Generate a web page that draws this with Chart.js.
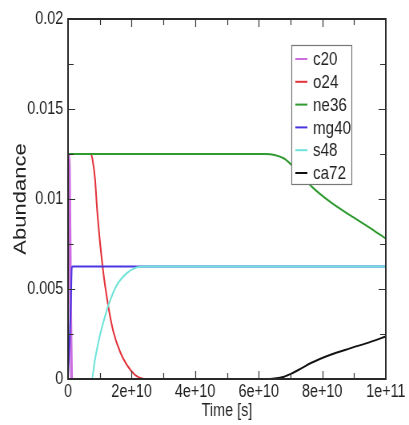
<!DOCTYPE html>
<html>
<head>
<meta charset="utf-8">
<script src="https://cdn.jsdelivr.net/npm/chart.js@4.4.1/dist/chart.umd.min.js"></script>
<style>
  html, body { margin: 0; padding: 0; background: #fff; overflow: hidden; }
  /* the reference looks horizontally squeezed, so draw wider and squeeze */
  #wrap { width: 511px; height: 425px; transform: scaleX(0.8004); transform-origin: 0 0; }
</style>
</head>
<body>
<div id="wrap"><canvas id="abund" width="511" height="425"></canvas></div>
<script>
(function () {
  'use strict'

  // species names and colours
  const species = ['c20', 'o24', 'ne36', 'mg40', 's48', 'ca72'];
  const colors = ['#cc6ee0', '#e3323a', '#2f9a2f', '#4a36e0', '#6ee3da', '#111111'];

  // time points [s] and abundances
  const tC20 = [0, 4e8, 8e8, 1.1e9];
  const vC20 = [0.0125, 0.0118, 0.004, 0];

  const tO24 = [0, 7.2e9, 7.7e9, 8.5e9, 9.2e9, 1.09e10, 1.27e10, 1.43e10, 1.64e10, 1.85e10, 2.11e10, 2.32e10, 2.5e10, 1e11];
  const vO24 = [0.0125, 0.0125, 0.0122, 0.0111, 0.0093, 0.0062, 0.0040, 0.0026, 0.0015, 0.00078, 0.00022, 0.00003, 0, 0];

  const tNe36 = [0, 6.2e10, 6.5e10, 6.8e10, 7.03e10, 7.35e10, 7.66e10, 8.24e10, 8.87e10, 9.5e10, 1e11];
  const vNe36 = [0.0125, 0.0125, 0.01245, 0.01225, 0.0119, 0.0113, 0.0107, 0.00985, 0.0091, 0.0084, 0.0078];

  const tMg40 = [0, 9e8, 1.2e9, 1.5e9, 1e11];
  const vMg40 = [0, 0.0042, 0.0062, 0.00625, 0.00625];

  const tS48 = [0, 7.45e9, 8.5e9, 1.0e10, 1.15e10, 1.27e10, 1.53e10, 1.85e10, 2.16e10, 2.4e10, 1e11];
  const vS48 = [0, 0, 0.0011, 0.0024, 0.0034, 0.0041, 0.0052, 0.00588, 0.0062, 0.00625, 0.00625];

  const tCa72 = [0, 6.2e10, 6.5e10, 6.8e10, 7.03e10, 7.35e10, 7.66e10, 8.24e10, 8.87e10, 9.5e10, 1e11];
  const vCa72 = [0, 0, 0.00003, 0.00013, 0.0003, 0.0006, 0.0009, 0.00133, 0.0017, 0.00205, 0.00236];

  const xTickLabels = ['0', '2e+10', '4e+10', '6e+10', '8e+10', '1e+11'];
  const yTickLabels = ['0', '0.005', '0.01', '0.015', '0.02'];

  const times = [tC20, tO24, tNe36, tMg40, tS48, tCa72];
  const values = [vC20, vO24, vNe36, vMg40, vS48, vCa72];

  const sans = "'Liberation Sans', Arial, sans-serif";

  const datasets = species.map(function (name, i) {
    return {
      label: name,
      data: times[i].map(function (t, j) { return { x: t, y: values[i][j] }; }),
      borderColor: colors[i],
      backgroundColor: colors[i],
      borderWidth: i === 0 ? 3.5 : 2,
      pointRadius: 0,
      cubicInterpolationMode: 'monotone',
      fill: false,
      order: species.length - i   // later species drawn on top
    };
  });

  // frame, inward ticks on all four sides and the boxed legend
  const framePlugin = {
    id: 'frame',
    afterDraw(chart) {
      const c = chart.ctx;
      const a = chart.chartArea;
      const xs = chart.scales.x;
      const ys = chart.scales.y;
      c.save();
      c.strokeStyle = '#333';
      c.lineWidth = 1.2;
      c.beginPath();
      for (let k = 1; k < 10; k++) {
        const px = Math.round(xs.getPixelForValue(k * 1e10)) + 0.5;
        const len = k % 2 === 0 ? 8 : 6;
        c.moveTo(px, a.bottom); c.lineTo(px, a.bottom - len);
        c.moveTo(px, a.top); c.lineTo(px, a.top + len);
      }
      for (let k = 1; k < 8; k++) {
        const py = Math.round(ys.getPixelForValue(k * 0.0025)) + 0.5;
        const len = k % 2 === 0 ? 9 : 7;
        c.moveTo(a.left, py); c.lineTo(a.left + len, py);
        c.moveTo(a.right, py); c.lineTo(a.right - len, py);
      }
      c.stroke();
      c.lineWidth = 2;
      c.strokeStyle = '#2a2a2a';
      c.strokeRect(a.left, a.top, a.right - a.left, a.bottom - a.top);

      // legend box
      const bx = a.right - 118, by = a.top + 26, bw = 75, bh = 139;
      c.fillStyle = '#fff';
      c.fillRect(bx, by, bw, bh);
      c.lineWidth = 1.2;
      c.strokeStyle = '#777';
      c.strokeRect(bx + 0.5, by + 0.5, bw, bh);
      c.font = '19px ' + sans;
      c.textBaseline = 'middle';
      chart.data.datasets.forEach(function (ds, i) {
        const yy = by + 14 + i * 22.8;
        c.strokeStyle = ds.borderColor;
        c.lineWidth = 2;
        c.beginPath();
        c.moveTo(bx + 5, yy); c.lineTo(bx + 20, yy);
        c.stroke();
        c.fillStyle = '#222';
        c.fillText(ds.label, bx + 27, yy + 1);
      });
      c.restore();
    }
  };

  new Chart(document.getElementById('abund'), {
    type: 'line',
    data: { datasets: datasets },
    options: {
      responsive: false,
      animation: false,
      layout: { padding: { left: 0, top: 19, right: 29, bottom: 0 } },
      plugins: {
        legend: { display: false },
        tooltip: { enabled: false }
      },
      scales: {
        x: {
          type: 'linear',
          min: 0,
          max: 1e11,
          grid: { display: false, drawTicks: false },
          border: { display: false },
          ticks: {
            stepSize: 2e10,
            padding: 2,
            maxRotation: 0,
            color: '#222',
            font: { family: sans, size: 18 },
            callback: function (v, i) { return xTickLabels[i]; }
          },
          title: {
            display: true,
            text: 'Time [s]',
            color: '#222',
            font: { family: sans, size: 18 },
            padding: { top: 0, bottom: 3 }
          },
          afterFit: function (s) { s.height = 46; s.paddingLeft = 0; s.paddingRight = 0; }
        },
        y: {
          type: 'linear',
          min: 0,
          max: 0.02,
          grid: { display: false, drawTicks: false },
          border: { display: false },
          ticks: {
            stepSize: 0.005,
            padding: 6,
            color: '#222',
            font: { family: sans, size: 18 },
            callback: function (v, i) { return yTickLabels[i]; }
          },
          title: {
            display: true,
            text: 'Abundance',
            color: '#222',
            font: { family: sans, size: 22 },
            padding: { top: 13, bottom: 0 }
          },
          afterFit: function (s) { s.width = 85; s.paddingTop = 0; s.paddingBottom = 0; }
        }
      }
    },
    plugins: [framePlugin]
  });
})()
</script>
</body>
</html>
